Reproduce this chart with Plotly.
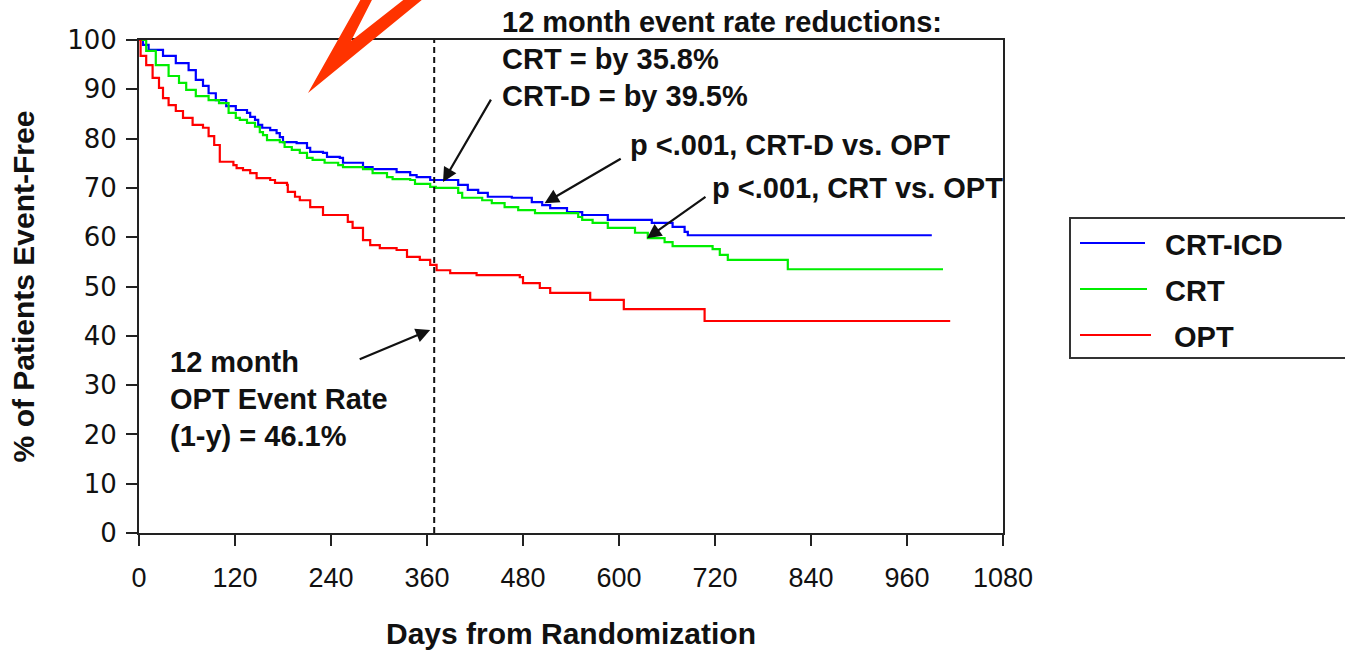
import plotly.graph_objects as go

# Kaplan-Meier event-free survival (step curves)
crt_icd_days = [0, 5, 12, 30, 46, 62, 71, 80, 87, 96, 109, 121, 135, 139, 145, 149, 154, 164, 172, 176,
                180, 197, 210, 214, 230, 235, 251, 255, 280, 292, 322, 339, 347, 364, 399, 411, 424, 436,
                466, 491, 504, 514, 535, 554, 586, 641, 667, 682, 686, 991]
crt_icd_pct = [100, 99.0, 98.0, 96.8, 95.3, 93.9, 91.9, 90.7, 89.2, 87.8, 86.6, 85.8, 85.2, 84.4, 83.8,
               82.8, 82.2, 81.7, 81.1, 80.3, 79.3, 79.1, 78.1, 77.3, 77.1, 76.3, 76.1, 75.1, 74.2, 73.8,
               73.2, 72.6, 72.2, 71.6, 70.6, 69.6, 69.0, 68.2, 68.0, 67.1, 66.5, 65.9, 65.1, 64.5, 63.5,
               62.9, 62.1, 61.1, 60.4, 60.4]

crt_days = [0, 9, 21, 37, 50, 59, 71, 87, 100, 112, 121, 126, 135, 145, 151, 155, 160, 176, 182, 191,
            201, 210, 217, 232, 249, 255, 280, 292, 310, 317, 339, 345, 364, 371, 399, 404, 429, 441,
            457, 474, 495, 549, 554, 567, 586, 620, 636, 657, 667, 717, 726, 736, 811, 1005]
crt_pct = [100, 97.8, 94.9, 92.7, 91.3, 89.9, 88.6, 87.8, 87.2, 85.2, 84.2, 83.8, 83.2, 82.4, 81.3,
           80.7, 79.7, 79.3, 78.3, 77.7, 77.1, 76.1, 75.7, 75.1, 74.6, 74.2, 73.8, 73.0, 72.2, 71.8,
           71.6, 70.8, 70.2, 70.0, 69.0, 68.0, 67.5, 66.9, 66.1, 65.5, 64.9, 64.1, 63.5, 62.9, 61.9,
           60.9, 59.8, 59.0, 58.2, 57.6, 56.4, 55.4, 53.5, 53.5]

opt_days = [0, 2, 9, 17, 25, 30, 37, 46, 55, 67, 80, 87, 94, 101, 118, 122, 130, 139, 147, 164, 170,
            185, 186, 195, 201, 214, 230, 261, 267, 280, 289, 301, 322, 335, 351, 364, 372, 389, 422,
            476, 480, 501, 514, 564, 606, 707, 1014]
opt_pct = [100, 96.8, 94.9, 92.3, 90.3, 88.2, 86.8, 85.6, 84.2, 82.8, 82.2, 80.5, 78.7, 75.3, 74.6,
           74.0, 73.6, 73.0, 72.0, 71.6, 71.0, 70.6, 69.2, 68.2, 67.5, 66.1, 64.5, 63.1, 61.9, 59.4,
           58.4, 57.8, 57.4, 56.0, 55.4, 54.4, 53.3, 52.7, 52.3, 51.9, 50.7, 49.7, 48.7, 47.3, 45.4,
           43.0, 43.0]

series_names = ["CRT-ICD", "CRT", "OPT"]
series_colors = ["#0000ff", "#00ee00", "#ff0000"]
x_ticks = [0, 120, 240, 360, 480, 600, 720, 840, 960, 1080]
y_ticks = [0, 10, 20, 30, 40, 50, 60, 70, 80, 90, 100]
one_year_day = 369

BOLD = "Liberation Sans, Arial, sans-serif"
W, H = 1345, 650
L, R, T, B = 139, 342, 40, 117
PW, PH = W - L - R, H - T - B


def px(x):
    return (x - L) / PW


def py(y):
    return (H - B - y) / PH


fig = go.Figure()
for name, color, xs, ys in zip(series_names, series_colors,
                                [crt_icd_days, crt_days, opt_days],
                                [crt_icd_pct, crt_pct, opt_pct]):
    fig.add_trace(go.Scatter(x=xs, y=ys, mode="lines", name=name, line_shape="hv",
                             line=dict(color=color, width=2.2), showlegend=False))

shapes = []
# 12-month reference line
shapes.append(dict(type="line", xref="x", yref="paper", x0=one_year_day, x1=one_year_day, y0=0, y1=1,
                   line=dict(color="#111111", width=2, dash="6px,4px")))

# red lightning mark at the top
bolt = [(308, 93), (366, -10), (377, -10), (351, 41), (416, -10), (434, -10)]
path = "M " + " L ".join(f"{px(a):.4f},{py(b):.4f}" for a, b in bolt) + " Z"
shapes.append(dict(type="path", xref="paper", yref="paper", path=path,
                   fillcolor="#ff3300", line=dict(width=0), layer="above"))

# legend box
shapes.append(dict(type="rect", xref="paper", yref="paper", x0=px(1070), x1=px(1360),
                   y0=py(358), y1=py(218), line=dict(color="#333333", width=2)))
legend_rows = [(243, 1145, 1163), (289, 1147, 1163), (335, 1151, 1172)]
annotations = []
for (yy, xend, xt), name, color in zip(legend_rows, series_names, series_colors):
    shapes.append(dict(type="line", xref="paper", yref="paper", x0=px(1080), x1=px(xend),
                       y0=py(yy), y1=py(yy), line=dict(color=color, width=2)))
    annotations.append(dict(xref="paper", yref="paper", x=px(xt), y=py(yy + 2), text=f"<b>{name}</b>",
                            showarrow=False, xanchor="left", yanchor="middle",
                            font=dict(family=BOLD, size=29, color="#111111")))

text_lines = [
    ("12 month event rate reductions:", 500, 22),
    ("CRT = by 35.8%", 500, 59),
    ("CRT-D = by 39.5%", 500, 96),
    ("p <.001, CRT-D vs. OPT", 628, 145),
    ("p <.001, CRT vs. OPT", 710, 188),
    ("12 month", 168, 362),
    ("OPT Event Rate", 168, 399),
    ("(1-y) = 46.1%", 168, 436),
]
for txt, xx, yy in text_lines:
    annotations.append(dict(xref="paper", yref="paper", x=px(xx), y=py(yy), text=f"<b>{txt}</b>",
                            showarrow=False, xanchor="left", yanchor="middle",
                            font=dict(family=BOLD, size=29, color="#111111")))

# pointer arrows (head, tail) in data units
arrows = [((380, 71.2), (441, 88.2)),
          ((507, 66.9), (604, 76.1)),
          ((635, 59.8), (710, 68.4)),
          ((364, 41.2), (274, 35.1))]
for (hx, hy), (tx, ty) in arrows:
    annotations.append(dict(x=hx, y=hy, ax=tx, ay=ty, xref="x", yref="y", axref="x", ayref="y",
                            text="", showarrow=True, arrowhead=2, arrowsize=1.3, arrowwidth=2.2,
                            arrowcolor="#111111"))

fig.update_layout(
    width=W, height=H,
    margin=dict(l=L, r=R, t=T, b=B, pad=0),
    paper_bgcolor="white", plot_bgcolor="white",
    shapes=shapes, annotations=annotations,
    xaxis=dict(range=[0, 1080], tickvals=x_ticks, ticktext=[str(v) for v in x_ticks],
               automargin=False,
               showgrid=False, zeroline=False, showline=True, linecolor="#222222", linewidth=2,
               mirror=True, ticks="outside", ticklen=11, tickwidth=2, tickcolor="#222222",
               ticklabelstandoff=9,
               tickfont=dict(family="Liberation Sans, Arial, sans-serif", size=27, color="#111111"),
               title=dict(text="<b>Days from Randomization</b>", standoff=40,
                          font=dict(family=BOLD, size=30, color="#111111"))),
    yaxis=dict(range=[0, 100], tickvals=y_ticks, ticktext=[str(v) for v in y_ticks],
               automargin=False,
               showgrid=False, zeroline=False, showline=True, linecolor="#222222", linewidth=2,
               mirror=True, ticks="outside", ticklen=11, tickwidth=2, tickcolor="#222222",
               ticklabelstandoff=4,
               tickfont=dict(family="DejaVu Sans, sans-serif", size=26, color="#111111"),
               title=dict(text="<b>% of Patients Event-Free</b>", standoff=24,
                          font=dict(family=BOLD, size=30, color="#111111"))),
)

fig.write_html("out.html")
